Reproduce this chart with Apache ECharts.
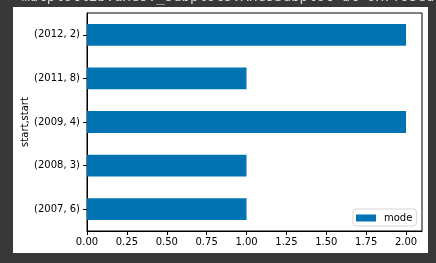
<!DOCTYPE html>
<html lang="en">
<head>
    <meta charset="UTF-8"/>
    <title>start,start mode</title>
    <style>
        * { margin: 0; padding: 0; }
        body { background: #383838; overflow: hidden; }
        #chart { width: 436px; height: 263px; }
    </style>
    <script src="https://cdn.jsdelivr.net/npm/echarts@6/dist/echarts.min.js"></script>
</head>
<body>
<div id="chart"></div>
<script>
    // data
    const categories = ["(2007, 6)", "(2008, 3)", "(2009, 4)", "(2011, 8)", "(2012, 2)"];
    const modeValues = [1, 1, 2, 1, 2];
    const xTicks = [0, 0.25, 0.5, 0.75, 1.0, 1.25, 1.5, 1.75, 2.0];

    const font = "DejaVu Sans";
    const myChart = echarts.init(document.getElementById("chart"));

    const option = {
        backgroundColor: "#383838",
        animation: false,
        graphic: [
            {
                type: "rect",
                z: -10,
                shape: { x: 13, y: 7, width: 415, height: 246 },
                style: { fill: "#ffffff" }
            },
            {
                type: "text",
                x: 13,
                y: -3,
                style: {
                    text: "<matplotlib.axes._subplots.AxesSubplot at 0x7f95ed",
                    font: "14px 'DejaVu Sans Mono'",
                    fill: "#d6d6d6",
                    verticalAlign: "middle"
                }
            }
        ],
        grid: {
            left: 87,
            top: 13,
            width: 335,
            height: 218,
            show: true,
            borderColor: "#000",
            borderWidth: 1,
            backgroundColor: "transparent"
        },
        legend: {
            data: ["mode"],
            left: 353,
            top: 209,
            itemWidth: 20,
            itemHeight: 7,
            icon: "rect",
            padding: [4, 4, 3, 3],
            itemGap: 0,
            backgroundColor: "#fff",
            borderColor: "#d5d5d5",
            borderWidth: 1,
            borderRadius: 3,
            textStyle: {
                fontFamily: font,
                fontSize: 10,
                lineHeight: 10,
                color: "#000",
                padding: [0, 0, 0, 3]
            }
        },
        xAxis: {
            type: "value",
            min: 0,
            max: 2.1,
            splitLine: { show: false },
            axisLine: { show: true, lineStyle: { color: "#000", width: 1 } },
            axisTick: {
                show: true,
                length: 4,
                lineStyle: { color: "#000" },
                customValues: xTicks
            },
            axisLabel: {
                customValues: xTicks,
                margin: 6,
                fontFamily: font,
                fontSize: 10,
                color: "#000",
                formatter: (v) => v.toFixed(2)
            }
        },
        yAxis: {
            type: "category",
            data: categories,
            name: "start,start",
            nameLocation: "middle",
            nameRotate: 90,
            nameGap: 57,
            nameMoveOverlap: false,
            nameTextStyle: { fontFamily: font, fontSize: 10, color: "#000" },
            axisLine: { show: true, lineStyle: { color: "#000", width: 1 } },
            axisTick: { show: true, alignWithLabel: true, length: 4, lineStyle: { color: "#000" } },
            axisLabel: { margin: 7, fontFamily: font, fontSize: 10, color: "#000" },
            splitLine: { show: false }
        },
        series: [
            {
                name: "mode",
                type: "bar",
                data: modeValues,
                barWidth: "50%",
                itemStyle: { color: "#0173B2" }
            }
        ]
    };
    myChart.setOption(option);
</script>
</body>
</html>
